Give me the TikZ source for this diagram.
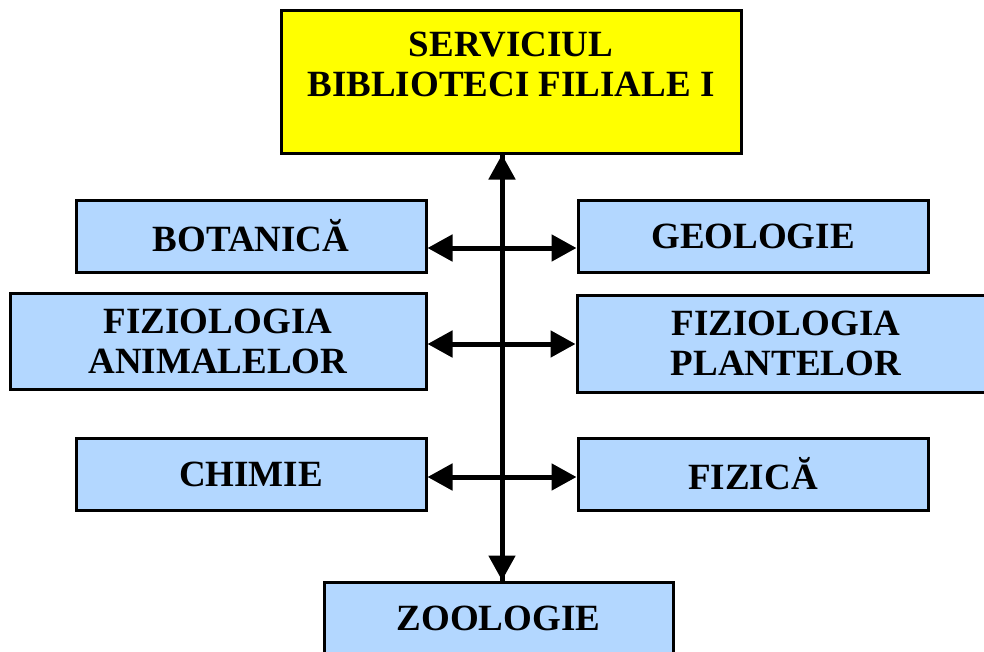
\documentclass[tikz,border=0pt]{standalone}
\usepackage{fontspec}
\setmainfont{Liberation Serif}
\usetikzlibrary{arrows.meta}
\definecolor{boxblue}{RGB}{179,215,255}
\definecolor{boxyellow}{RGB}{255,255,0}
\begin{document}
\begin{tikzpicture}[x=1pt,y=-1pt,
  dept/.style={draw=black,line width=3pt,fill=boxblue,inner sep=0pt,
    minimum width=350pt,minimum height=72pt,align=center,
    font=\fontsize{37}{40}\selectfont\bfseries},
  headbox/.style={dept,fill=boxyellow,minimum width=460pt,minimum height=143pt},
  link/.style={line width=5pt,-{Triangle[length=25pt,width=26pt]}},
  biglink/.style={line width=5pt,{Triangle[length=25pt,width=26pt]}-{Triangle[length=25pt,width=26pt]}}]
\useasboundingbox (0,0) rectangle (984,651);
\clip (0,0) rectangle (984,651);
% head office
\node[headbox] (head) at (511,81.5) {SERVICIUL\\BIBLIOTECI FILIALE I\\[-18pt]\strut};
% branches
\node[dept] (bot) at (251,236) {BOTANICĂ};
\node[dept] (geo) at (753,236) {GEOLOGIE};
\node[dept,minimum width=416pt,minimum height=96pt] (fanim) at (218,341) {FIZIOLOGIA\\ANIMALELOR};
\node[dept,minimum width=418pt,minimum height=97pt] (fplant) at (786,343.5) {FIZIOLOGIA\\PLANTELOR};
\node[dept] (chim) at (251,474) {CHIMIE};
\node[dept] (fiz) at (753,474) {FIZICĂ};
\node[dept,minimum width=349pt] (zoo) at (498.5,618) {ZOOLOGIE};
% connectors
\coordinate (spine) at (502,400);
\draw[link] (spine |- zoo.north) -- (spine |- head.south);
\draw[link] (spine |- head.south) -- (spine |- zoo.north);
\draw[biglink] ([yshift=-12pt]bot.east) -- ([yshift=-12pt]geo.west);
\draw[biglink] ([yshift=-3pt]fanim.east) -- ([yshift=-3pt]fanim.east -| fplant.west);
\draw[biglink] ([yshift=-3pt]chim.east) -- ([yshift=-3pt]fiz.west);
\end{tikzpicture}
\end{document}
